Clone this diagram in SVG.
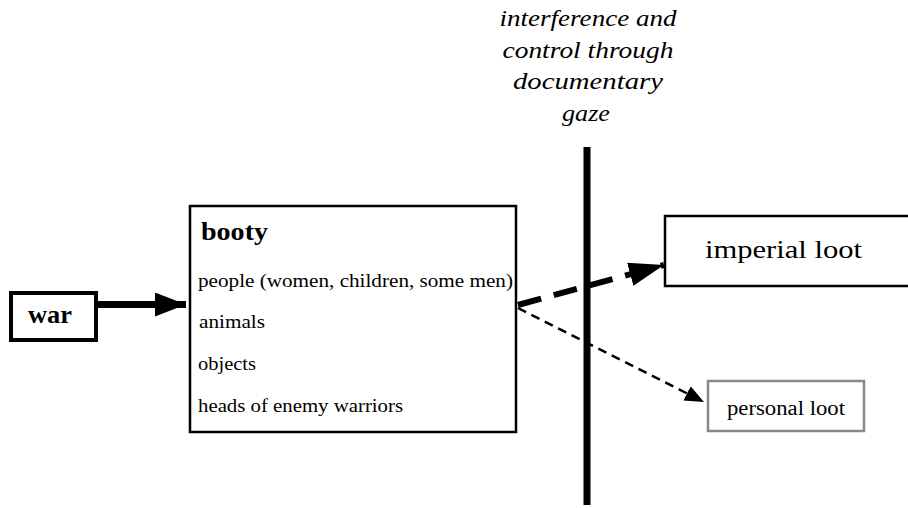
<svg xmlns="http://www.w3.org/2000/svg" width="908" height="508" viewBox="0 0 908 508">
<style>
  .box{fill:#fff;stroke:#000;}
  .t{font-family:"Liberation Serif","Times New Roman",serif;fill:#000;}
  .it{font-family:"Liberation Serif","Times New Roman",serif;font-style:italic;font-size:24px;text-anchor:middle;fill:#000;}
</style>
<defs>
  <marker id="mWar" markerUnits="userSpaceOnUse" markerWidth="32" markerHeight="24" refX="31" refY="12" orient="auto">
    <path d="M0,0 L31,12 L0,24 Z" fill="#000"/>
  </marker>
  <marker id="mBig" markerUnits="userSpaceOnUse" markerWidth="36" markerHeight="24" refX="35" refY="12" orient="auto">
    <path d="M0,0 L35,12 L0,24 Z" fill="#000"/>
  </marker>
  <marker id="mSmall" markerUnits="userSpaceOnUse" markerWidth="20" markerHeight="16" refX="19" refY="8" orient="auto">
    <path d="M0,0 L19,8 L0,16 Z" fill="#000"/>
  </marker>
</defs>

<g id="title">
  <text class="it" x="588" y="26" textLength="177" lengthAdjust="spacingAndGlyphs">interference and</text>
  <text class="it" x="588" y="58" textLength="171" lengthAdjust="spacingAndGlyphs">control through</text>
  <text class="it" x="588" y="89" textLength="150" lengthAdjust="spacingAndGlyphs">documentary</text>
  <text class="it" x="586" y="121" textLength="48" lengthAdjust="spacingAndGlyphs">gaze</text>
</g>

<g id="barrier">
  <rect x="583.5" y="147" width="7" height="358" fill="#000"/>
</g>

<g id="connectors">
  <line x1="98" y1="304.5" x2="186" y2="304.5" stroke="#000" stroke-width="7" marker-end="url(#mWar)"/>
  <line x1="518" y1="305" x2="664" y2="265" stroke="#000" stroke-width="6" stroke-dasharray="24,13" marker-end="url(#mBig)"/>
  <line x1="518" y1="308" x2="704" y2="402" stroke="#000" stroke-width="2.5" stroke-dasharray="9,6" marker-end="url(#mSmall)"/>
</g>

<g id="war">
  <rect class="box" x="11" y="293" width="85" height="47" stroke-width="4"/>
  <text class="t" x="28" y="323" font-size="25" font-weight="bold" textLength="44" lengthAdjust="spacingAndGlyphs">war</text>
</g>

<g id="booty">
  <rect class="box" x="190" y="206" width="326" height="226" stroke-width="2.5"/>
  <text class="t" x="201" y="240" font-size="25" font-weight="bold" textLength="67" lengthAdjust="spacingAndGlyphs">booty</text>
  <text class="t" x="198" y="287" font-size="18" textLength="315" lengthAdjust="spacingAndGlyphs">people (women, children, some men)</text>
  <text class="t" x="199" y="328" font-size="18" textLength="66" lengthAdjust="spacingAndGlyphs">animals</text>
  <text class="t" x="198" y="370" font-size="18" textLength="58" lengthAdjust="spacingAndGlyphs">objects</text>
  <text class="t" x="198" y="412" font-size="18" textLength="205" lengthAdjust="spacingAndGlyphs">heads of enemy warriors</text>
</g>

<g id="imperial-loot">
  <rect class="box" x="665" y="216" width="260" height="70" stroke-width="2.5"/>
  <text class="t" x="705" y="258" font-size="26" textLength="157" lengthAdjust="spacingAndGlyphs">imperial loot</text>
</g>

<g id="personal-loot">
  <rect x="708" y="381" width="156" height="50" fill="#fff" stroke="#888" stroke-width="2.5"/>
  <text class="t" x="727" y="415" font-size="20" fill="#111" textLength="118" lengthAdjust="spacingAndGlyphs">personal loot</text>
</g>
</svg>
